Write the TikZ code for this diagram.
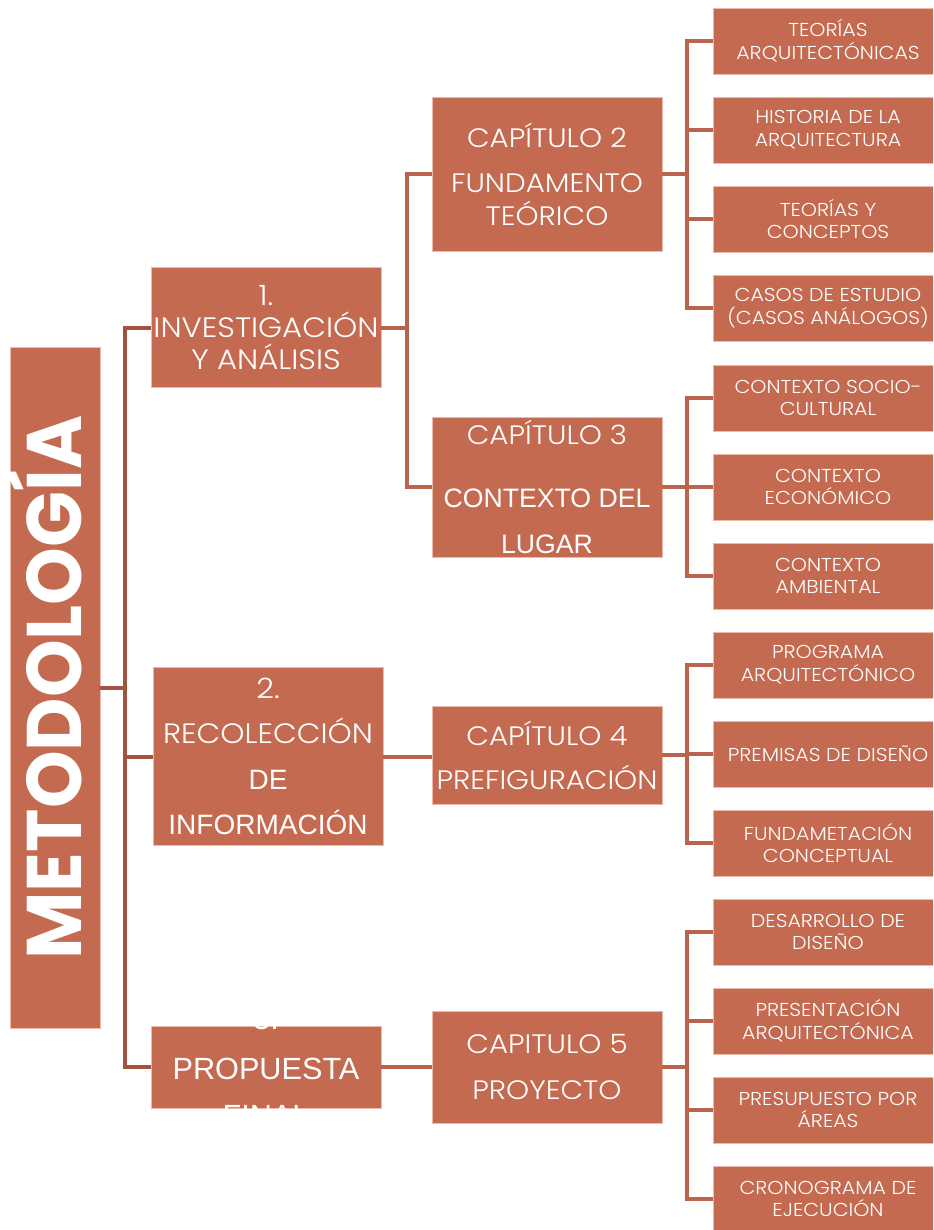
\documentclass[tikz,border=0pt]{standalone}
\usepackage{fontspec}
\setmainfont{Poppins}[UprightFont=* Light, FakeStretch=1.1]
\newfontfamily\metofont{Poppins}[FakeStretch=0.95]
\newfontfamily\arialfont{Liberation Sans}
\usetikzlibrary{positioning}
\definecolor{boxfill}{HTML}{C46A50}
\definecolor{boxline}{HTML}{EDB9A8}
\definecolor{trunkcol}{HTML}{A4523F}
\definecolor{linkcol}{HTML}{BC634D}

\begin{document}
\begin{tikzpicture}[x=0.75pt, y=-0.75pt,
    box/.style={rectangle, draw=boxline, line width=0.6pt, fill=boxfill, text=white, align=center, inner sep=0pt},
    mainbox/.style={box, minimum width=172.5pt, font=\fontsize{21}{24}\selectfont},
    capbox/.style={box, minimum width=172.5pt, font=\fontsize{20}{25}\selectfont},
    leaf/.style={box, minimum width=172.5pt, minimum height=49.5pt, font=\fontsize{14}{17}\selectfont},
    trunk/.style={draw=trunkcol, line width=3pt},
    link/.style={draw=linkcol, line width=3pt}]
    \clip (0,0) rectangle (933,1230);

    % root
    \node[box, rotate=90, minimum width=510.75pt, minimum height=67.5pt, text height=40pt, text depth=0pt, font=\metofont\bfseries\fontsize{58}{58}\selectfont] (meto) at (55,687.5) {METODOLOGÍA};

    % stages
    \node[mainbox, minimum height=90pt] (inv) at (266,327.5) {1.\\INVESTIGACIÓN\\Y ANÁLISIS};
    \node[mainbox, minimum height=133pt] (rec) at (268,756.5) {2.\\[10pt]RECOLECCIÓN\\[10pt]{\arialfont DE}\\[10pt]{\arialfont INFORMACIÓN}};
    \node[mainbox, minimum height=61.5pt] (prop) at (266,1067) {};
    \begin{scope}
        \clip (prop.south west) rectangle (prop.north east);
        \node[text=white, align=center, font=\arialfont\fontsize{23}{23}\selectfont] (propt) at (prop.center) {3.\\[15pt]PROPUESTA\\[12pt]FINAL};
    \end{scope}

    % chapters
    \node[capbox, minimum height=115pt] (cap2) at (547,174.5) {CAPÍTULO 2\\[9pt]FUNDAMENTO\\TEÓRICO};
    \node[capbox, minimum height=105pt] (cap3) at (547,487) {CAPÍTULO 3\\[22pt]{\arialfont CONTEXTO DEL}\\[10pt]{\arialfont LUGAR}};
    \node[capbox, minimum height=73.5pt] (cap4) at (547,755) {CAPÍTULO 4\\[8pt]PREFIGURACIÓN};
    \node[capbox, minimum height=84pt] (cap5) at (547,1067) {CAPITULO 5\\[9pt]PROYECTO};

    % topics
    \node[leaf] (teoarq) at (828,41) {TEORÍAS\\ARQUITECTÓNICAS};
    \node[leaf] (hist) at (828,130) {HISTORIA DE LA\\ARQUITECTURA};
    \node[leaf] (teocon) at (828,219) {TEORÍAS Y\\CONCEPTOS};
    \node[leaf] (casos) at (828,308) {CASOS DE ESTUDIO\\(CASOS ANÁLOGOS)};
    \node[leaf] (socio) at (828,398) {CONTEXTO SOCIO-\\CULTURAL};
    \node[leaf] (econ) at (828,487) {CONTEXTO\\ECONÓMICO};
    \node[leaf] (amb) at (828,576) {CONTEXTO\\AMBIENTAL};
    \node[leaf] (prog) at (828,665) {PROGRAMA\\ARQUITECTÓNICO};
    \node[leaf] (prem) at (828,754) {PREMISAS DE DISEÑO};
    \node[leaf] (fund) at (828,843) {FUNDAMETACIÓN\\CONCEPTUAL};
    \node[leaf] (desa) at (828,932) {DESARROLLO DE\\DISEÑO};
    \node[leaf] (pres) at (828,1021) {PRESENTACIÓN\\ARQUITECTÓNICA};
    \node[leaf] (presu) at (828,1110) {PRESUPUESTO POR\\ÁREAS};
    \node[leaf] (crono) at (828,1199) {CRONOGRAMA DE\\EJECUCIÓN};

    % root to stages
    \draw[trunk] (meto.south) -- ++(25,0) |- (inv.west);
    \draw[trunk] (meto.south) -- ++(25,0) |- (rec.west);
    \draw[trunk] (meto.south) -- ++(25,0) |- (prop.west);

    % stages to chapters
    \draw[link] (inv.east) -- ++(26,0) |- (cap2.west);
    \draw[link] (inv.east) -- ++(26,0) |- (cap3.west);
    \draw[link] (rec.east) -- (rec.east -| cap4.west);
    \draw[link] (prop.east) -- (cap5.west);

    % chapters to topics
    \draw[link] (cap2.east) -- ++(25,0) |- (teoarq.west);
    \draw[link] (cap2.east) -- ++(25,0) |- (hist.west);
    \draw[link] (cap2.east) -- ++(25,0) |- (teocon.west);
    \draw[link] (cap2.east) -- ++(25,0) |- (casos.west);
    \draw[link] (cap3.east) -- ++(25,0) |- (socio.west);
    \draw[link] (cap3.east) -- ++(25,0) |- (econ.west);
    \draw[link] (cap3.east) -- ++(25,0) |- (amb.west);
    \draw[link] (cap4.east) -- ++(25,0) |- (prog.west);
    \draw[link] (cap4.east) -- ++(25,0) |- (prem.west);
    \draw[link] (cap4.east) -- ++(25,0) |- (fund.west);
    \draw[link] (cap5.east) -- ++(25,0) |- (desa.west);
    \draw[link] (cap5.east) -- ++(25,0) |- (pres.west);
    \draw[link] (cap5.east) -- ++(25,0) |- (presu.west);
    \draw[link] (cap5.east) -- ++(25,0) |- (crono.west);
\end{tikzpicture}
\end{document}
